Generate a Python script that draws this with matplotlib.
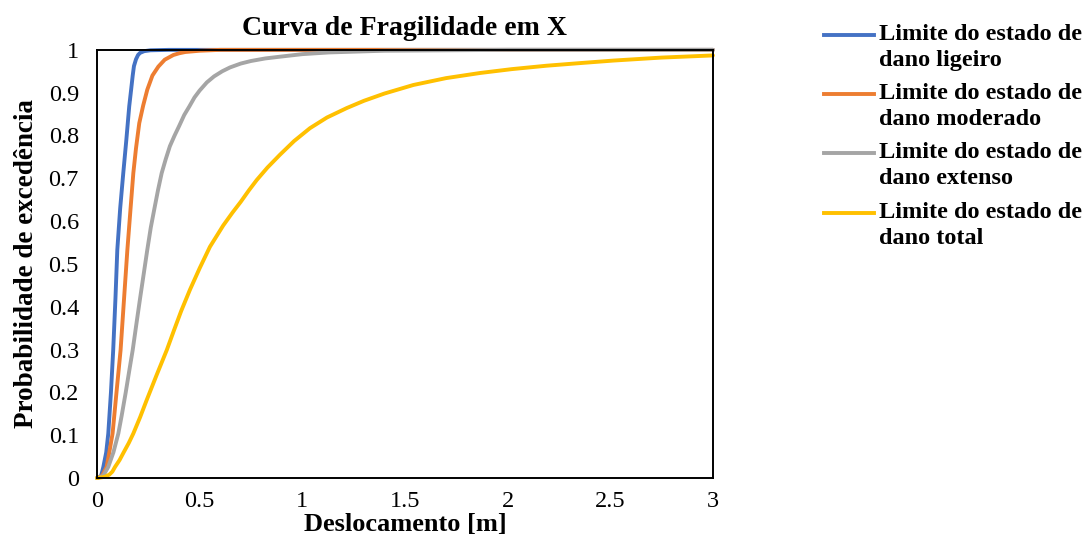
import matplotlib
matplotlib.use('Agg')

import matplotlib.pyplot as plt
from matplotlib.lines import Line2D

# -----------------------------
# Data
# -----------------------------
x_ligeiro = [0, 0.02, 0.031, 0.045, 0.055, 0.068, 0.079, 0.09, 0.099, 0.113, 0.128,
             0.143, 0.157, 0.167, 0.174, 0.18, 0.19, 0.20, 0.21, 0.23, 0.26, 0.35, 3.0]
p_ligeiro = [0, 0.005, 0.026, 0.06, 0.104, 0.2, 0.299, 0.42, 0.533, 0.63, 0.712,
             0.79, 0.868, 0.91, 0.94, 0.962, 0.978, 0.988, 0.993, 0.997, 0.999, 1.0, 1.0]

x_moderado = [0, 0.025, 0.047, 0.06, 0.076, 0.095, 0.115, 0.132, 0.148, 0.162, 0.177,
              0.19, 0.206, 0.225, 0.245, 0.27, 0.299, 0.33, 0.372, 0.40, 0.43, 0.5,
              0.6, 3.0]
p_moderado = [0, 0.005, 0.026, 0.06, 0.104, 0.2, 0.299, 0.42, 0.533, 0.62, 0.712,
              0.77, 0.829, 0.87, 0.907, 0.94, 0.961, 0.977, 0.988, 0.992, 0.995, 0.998,
              1.0, 1.0]

x_extenso = [0, 0.03, 0.055, 0.08, 0.104, 0.12, 0.14, 0.157, 0.174, 0.192, 0.21, 0.228,
             0.245, 0.262, 0.28, 0.297, 0.315, 0.335, 0.355, 0.378, 0.40, 0.425, 0.45,
             0.475, 0.50, 0.535, 0.57, 0.61, 0.648, 0.70, 0.75, 0.82, 0.89, 1.0, 1.13,
             1.4, 2.0, 3.0]
p_extenso = [0, 0.005, 0.026, 0.06, 0.104, 0.145, 0.2, 0.25, 0.299, 0.36, 0.42, 0.478,
             0.533, 0.585, 0.63, 0.672, 0.712, 0.745, 0.775, 0.80, 0.822, 0.848, 0.868,
             0.889, 0.905, 0.924, 0.938, 0.95, 0.959, 0.968, 0.974, 0.98, 0.984, 0.99,
             0.994, 0.998, 1.0, 1.0]

x_total = [0, 0.039, 0.06, 0.075, 0.088, 0.11, 0.13, 0.155, 0.177, 0.21, 0.242, 0.29,
           0.34, 0.375, 0.41, 0.453, 0.5, 0.55, 0.615, 0.66, 0.70, 0.74, 0.778, 0.83,
           0.891, 0.96, 1.037, 1.12, 1.216, 1.3, 1.4, 1.541, 1.7, 1.866, 2.02, 2.19,
           2.35, 2.515, 2.75, 3.0]
p_total = [0, 0.003, 0.008, 0.015, 0.026, 0.042, 0.06, 0.082, 0.104, 0.142, 0.182, 0.24,
           0.299, 0.345, 0.39, 0.44, 0.49, 0.54, 0.59, 0.62, 0.645, 0.672, 0.696, 0.725,
           0.755, 0.787, 0.817, 0.842, 0.864, 0.881, 0.898, 0.918, 0.934, 0.946, 0.955,
           0.963, 0.969, 0.975, 0.982, 0.987]

labels = ['Limite do estado de\ndano ligeiro',
          'Limite do estado de\ndano moderado',
          'Limite do estado de\ndano extenso',
          'Limite do estado de\ndano total']
colors = ['#4472C4', '#ED7D31', '#A5A5A5', '#FFC000']

x_ticks = [0, 0.5, 1, 1.5, 2, 2.5, 3]
x_tick_labels = ['0', '0.5', '1', '1.5', '2', '2.5', '3']
y_ticks = [0, 0.1, 0.2, 0.3, 0.4, 0.5, 0.6, 0.7, 0.8, 0.9, 1]
y_tick_labels = ['0', '0.1', '0.2', '0.3', '0.4', '0.5', '0.6', '0.7', '0.8', '0.9', '1']

# -----------------------------
# Figure
# -----------------------------
plt.rcParams['font.family'] = ['Liberation Serif', 'DejaVu Serif']

fig = plt.figure(figsize=(10.86, 5.42), dpi=100)
ax = fig.add_axes([0.0893, 0.118, 0.5672, 0.790])

series = [(x_ligeiro, p_ligeiro), (x_moderado, p_moderado),
          (x_extenso, p_extenso), (x_total, p_total)]
for (xs, ps), c in zip(series, colors):
    ax.plot(xs, ps, color=c, linewidth=2.8, solid_joinstyle='round',
            solid_capstyle='round', clip_on=False)

ax.set_xlim(0, 3)
ax.set_ylim(0, 1)
ax.set_xticks(x_ticks)
ax.set_xticklabels(x_tick_labels)
ax.set_yticks(y_ticks)
ax.set_yticklabels(y_tick_labels)
ax.tick_params(axis='y', length=0, labelsize=17.5, pad=13)
ax.tick_params(axis='x', length=0, labelsize=17.5, pad=9)
for s in ax.spines.values():
    s.set_linewidth(1.4)
    s.set_color('black')

ax.set_title('Curva de Fragilidade em X', fontsize=20, fontweight='bold', pad=11)
ax.set_xlabel('Deslocamento [m]', fontsize=19, fontweight='bold', labelpad=1)
ax.set_ylabel('Probabilidade de excedência', fontsize=19.5, fontweight='bold', labelpad=7)

# legend drawn by hand: handle aligned with the first text line
W, H = 1086, 542
row_y = [35, 94, 153, 213]
for lab, c, yy in zip(labels, colors, row_y):
    fig.add_artist(Line2D([824 / W, 874 / W], [1 - yy / H, 1 - yy / H],
                          color=c, linewidth=2.8, transform=fig.transFigure))
    fig.text(879 / W, 1 - (yy - 11) / H, lab, fontsize=17.5, fontweight='bold',
             va='top', ha='left', linespacing=1.32)

fig.savefig('out.png', dpi=100)
